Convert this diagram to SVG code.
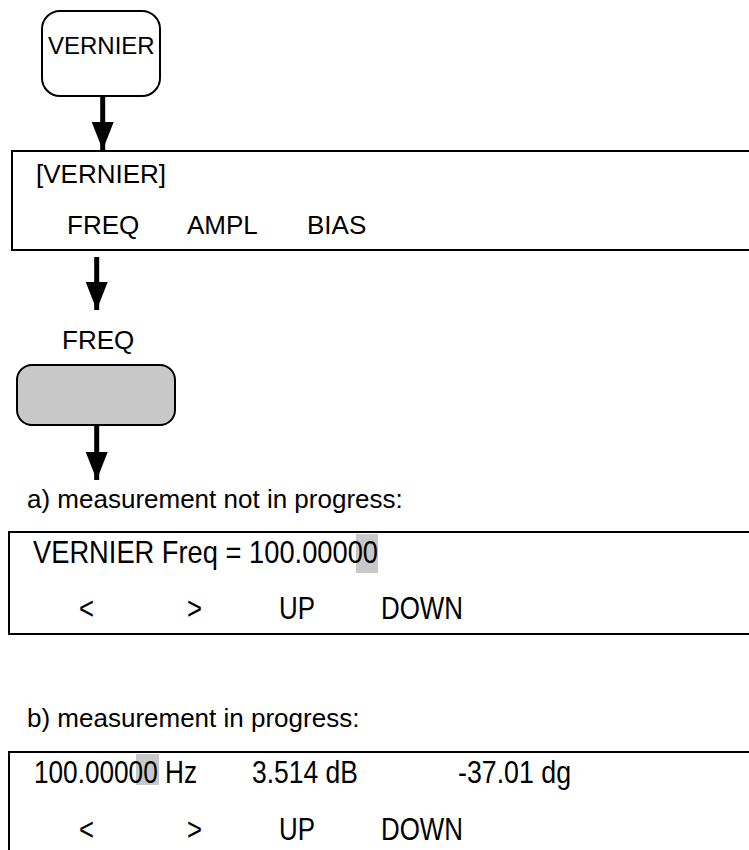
<svg xmlns="http://www.w3.org/2000/svg" width="749" height="850" viewBox="0 0 749 850">
  <style>
    .box { fill: #ffffff; stroke: #000000; stroke-width: 2; }
    .btn { fill: #ffffff; stroke: #000000; stroke-width: 2; }
    .btn-grey { fill: #c8c8c8; stroke: #000000; stroke-width: 2; }
    .hl { fill: #c8c8c8; }
    .t { font-family: "Liberation Sans", Arial, sans-serif; font-size: 26px; fill: #000000; }
    .tb { font-family: "Liberation Sans", Arial, sans-serif; font-size: 24px; fill: #000000; }
    .n { font-family: "Liberation Sans", Arial, sans-serif; font-size: 32px; fill: #000000; }
    .conn { stroke: #000000; stroke-width: 5; fill: none; }
  </style>
  <defs>
    <marker id="ah" markerUnits="userSpaceOnUse" markerWidth="28" markerHeight="22" refX="28" refY="11" orient="auto">
      <path d="M0,0 L28,11 L0,22 Z" fill="#000000"/>
    </marker>
  </defs>
  <rect width="749" height="850" fill="#ffffff"/>

  <g id="btn-vernier">
    <rect class="btn" x="42" y="11" width="118" height="85" rx="18" ry="18"/>
    <text class="tb" x="48" y="54">VERNIER</text>
  </g>

  <g id="menu-vernier">
    <rect class="box" x="12" y="151" width="760" height="99"/>
    <text class="t" x="36" y="183">[VERNIER]</text>
    <text class="t" x="67" y="234">FREQ</text>
    <text class="t" x="187" y="234">AMPL</text>
    <text class="t" x="307" y="234">BIAS</text>
  </g>

  <g id="label-freq">
    <text class="t" x="62" y="349">FREQ</text>
  </g>

  <g id="btn-freq">
    <rect class="btn-grey" x="17" y="365" width="158" height="60" rx="15" ry="15"/>
  </g>

  <g id="caption-a">
    <text class="t" x="27" y="508">a) measurement not in progress:</text>
  </g>

  <g id="display-a">
    <rect class="box" x="9" y="532" width="760" height="102"/>
    <rect class="hl" x="356" y="534" width="22" height="39"/>
    <text class="n" x="33" y="563" textLength="345" lengthAdjust="spacingAndGlyphs">VERNIER  Freq = 100.00000</text>
    <text class="n" x="79" y="619" textLength="15" lengthAdjust="spacingAndGlyphs">&lt;</text>
    <text class="n" x="187" y="619" textLength="15" lengthAdjust="spacingAndGlyphs">&gt;</text>
    <text class="n" x="279" y="619" textLength="36" lengthAdjust="spacingAndGlyphs">UP</text>
    <text class="n" x="381" y="619" textLength="82" lengthAdjust="spacingAndGlyphs">DOWN</text>
  </g>

  <g id="caption-b">
    <text class="t" x="27" y="727">b) measurement in progress:</text>
  </g>

  <g id="display-b">
    <rect class="box" x="9" y="752" width="760" height="120"/>
    <rect class="hl" x="136" y="754" width="23" height="31"/>
    <text class="n" x="34" y="783" textLength="163" lengthAdjust="spacingAndGlyphs">100.00000 Hz</text>
    <text class="n" x="252" y="783" textLength="106" lengthAdjust="spacingAndGlyphs">3.514 dB</text>
    <text class="n" x="458" y="783" textLength="113" lengthAdjust="spacingAndGlyphs">-37.01 dg</text>
    <text class="n" x="79" y="840" textLength="15" lengthAdjust="spacingAndGlyphs">&lt;</text>
    <text class="n" x="187" y="840" textLength="15" lengthAdjust="spacingAndGlyphs">&gt;</text>
    <text class="n" x="279" y="840" textLength="36" lengthAdjust="spacingAndGlyphs">UP</text>
    <text class="n" x="381" y="840" textLength="82" lengthAdjust="spacingAndGlyphs">DOWN</text>
  </g>

  <g id="connectors">
    <line class="conn" x1="102.7" y1="96" x2="102.7" y2="150" marker-end="url(#ah)"/>
    <line class="conn" x1="96.7" y1="257" x2="96.7" y2="310" marker-end="url(#ah)"/>
    <line class="conn" x1="96.7" y1="426" x2="96.7" y2="480" marker-end="url(#ah)"/>
  </g>
</svg>
